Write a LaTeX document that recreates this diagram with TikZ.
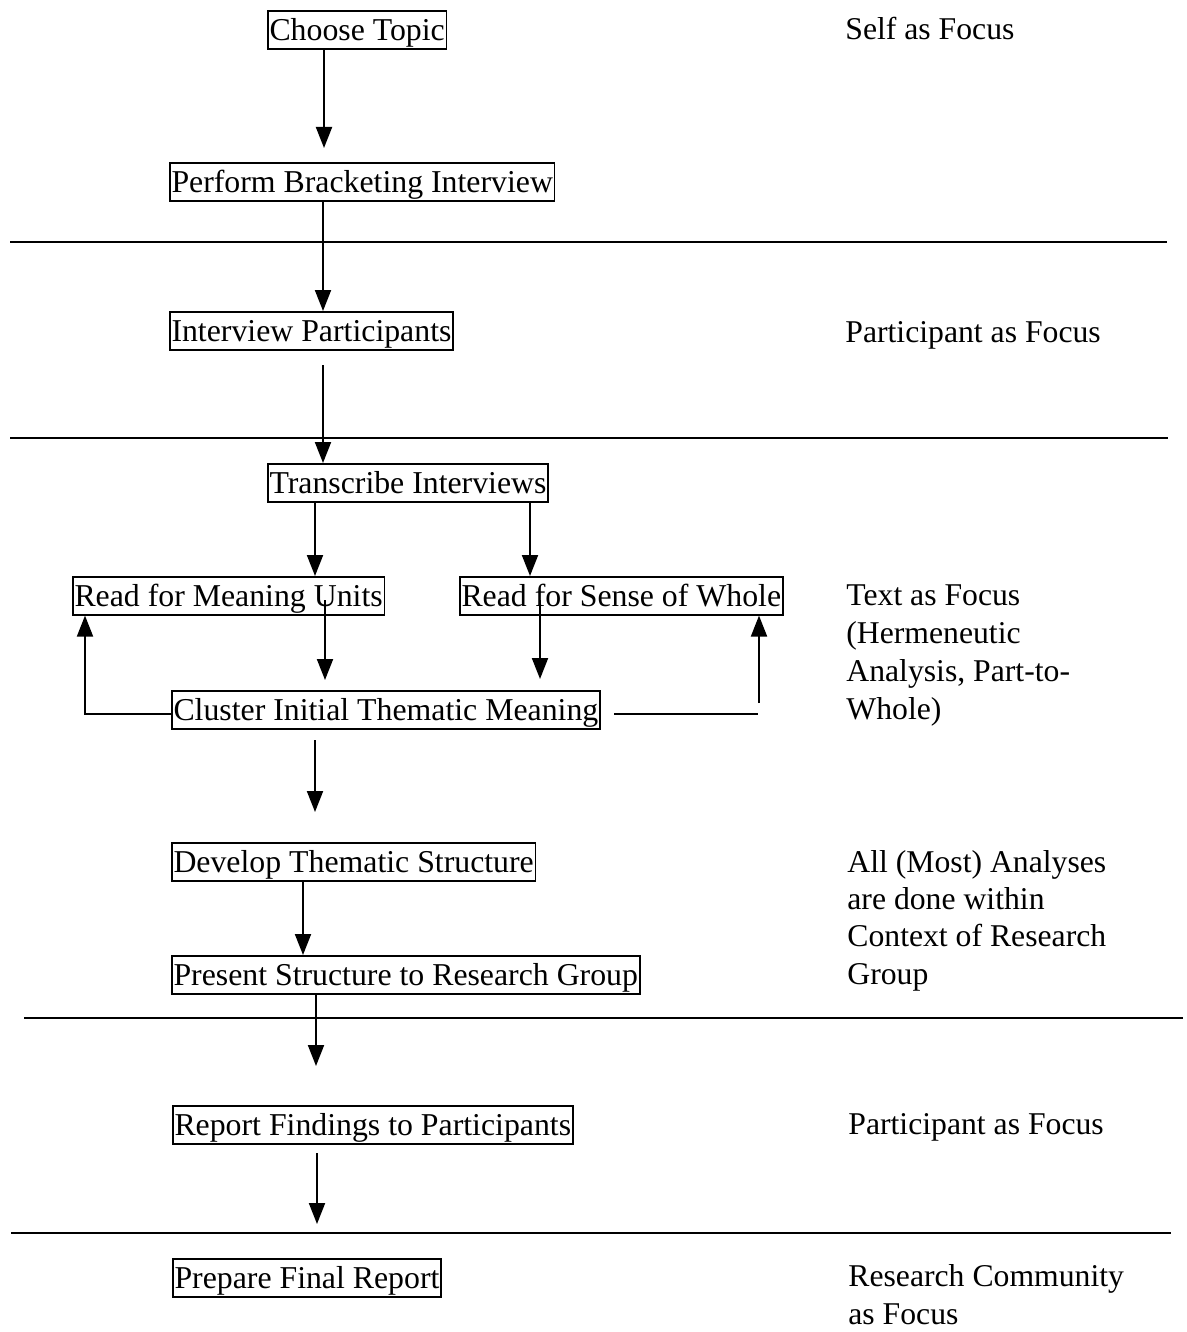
\documentclass[tikz,border=0pt]{standalone}
\usepackage{fontspec}
\setmainfont{Liberation Serif}
\usetikzlibrary{arrows.meta}
\tikzset{
  box/.style={draw, line width=0.8pt, anchor=north west, inner xsep=0.85pt, inner ysep=0.6pt,
    text height=14.3pt, text depth=3.5pt, font=\fontsize{15.9pt}{19pt}\selectfont},
  lbl/.style={anchor=base west, inner sep=0pt, align=left, font=\fontsize{15.85pt}{19pt}\selectfont},
  arr/.style={line width=1pt, -{Triangle[length=10.5pt,width=8pt]}},
  con/.style={line width=1pt},
  sep/.style={line width=0.8pt}
}
\begin{document}
\begin{tikzpicture}[x=0.5pt,y=-0.5pt]
\useasboundingbox (0,0) rectangle (1187,1332);
% boxes
\node[box] (ct) at (267,10) {Choose Topic};
\node[box] (pb) at (169,162) {Perform Bracketing Interview};
\node[box] (ip) at (169,311) {Interview Participants};
\node[box] (ti) at (267,463) {Transcribe Interviews};
\node[box] (rm) at (72,576) {Read for Meaning Units};
\node[box] (rs) at (459,576) {Read for Sense of Whole};
\node[box] (ci) at (171,690) {Cluster Initial Thematic Meaning};
\node[box] (dt) at (171,842) {Develop Thematic Structure};
\node[box] (ps) at (171,955) {Present Structure to Research Group};
\node[box] (rf) at (172,1105) {Report Findings to Participants};
\node[box] (pf) at (172,1258) {Prepare Final Report};
% labels (multi-line: base = last line baseline)
\node[lbl] (l1) at (845,40) {Self as Focus};
\node[lbl] (l2) at (845,342) {Participant as Focus};
\node[lbl,font=\fontsize{15.85pt}{18.9pt}\selectfont] (l3) at (846,719) {Text as Focus\\(Hermeneutic\\Analysis, Part-to-\\Whole)};
\node[lbl,font=\fontsize{15.85pt}{18.6pt}\selectfont] (l4) at (847,984) {All (Most) Analyses\\are done within\\Context of Research\\Group};
\node[lbl] (l5) at (848,1134) {Participant as Focus};
\node[lbl,font=\fontsize{15.85pt}{18.7pt}\selectfont] (l6) at (848,1324) {Research Community\\as Focus};
% separators
\coordinate (s1a) at (10,242); \coordinate (s1b) at (1167,242);
\coordinate (s2a) at (10,438); \coordinate (s2b) at (1168,438);
\coordinate (s3a) at (24,1018); \coordinate (s3b) at (1183,1018);
\coordinate (s4a) at (11,1233); \coordinate (s4b) at (1171,1233);
\draw[sep] (s1a) -- (s1b);
\draw[sep] (s2a) -- (s2b);
\draw[sep] (s3a) -- (s3b);
\draw[sep] (s4a) -- (s4b);
% arrow coordinates
\coordinate (a1) at (324,148);
\coordinate (a2) at (323,0);
\coordinate (a3s) at (323,365);
\coordinate (a4) at (315,0);
\coordinate (a5) at (530,0);
\coordinate (a6s) at (325,600); \coordinate (a6e) at (325,680);
\coordinate (a7s) at (540,600); \coordinate (a7e) at (540,679);
\coordinate (fl) at (85,714);
\coordinate (fr1) at (614,714); \coordinate (fr2) at (758,714);
\coordinate (fr3) at (759,703);
\coordinate (a10s) at (315,740); \coordinate (a10e) at (315,812);
\coordinate (a11) at (303,0);
\coordinate (a12e) at (316,1066);
\coordinate (a13s) at (317,1153); \coordinate (a13e) at (317,1224);
% arrows
\draw[arr] (ct.south -| a1) -- (a1);
\draw[arr] (pb.south -| a2) -- (ip.north -| a2);
\draw[arr] (a3s) -- (ti.north -| a3s);
\draw[arr] (ti.south -| a4) -- (rm.north -| a4);
\draw[arr] (ti.south -| a5) -- (rs.north -| a5);
\draw[arr] (a6s) -- (a6e);
\draw[arr] (a7s) -- (a7e);
\draw[arr] (ci.west |- fl) -- (fl) -- (rm.south -| fl);
\draw[con] (fr1) -- (fr2);
\draw[arr] (fr3) -- (rs.south -| fr3);
\draw[arr] (a10s) -- (a10e);
\draw[arr] (dt.south -| a11) -- (ps.north -| a11);
\draw[arr] (ps.south -| a12e) -- (a12e);
\draw[arr] (a13s) -- (a13e);
\end{tikzpicture}
\end{document}
